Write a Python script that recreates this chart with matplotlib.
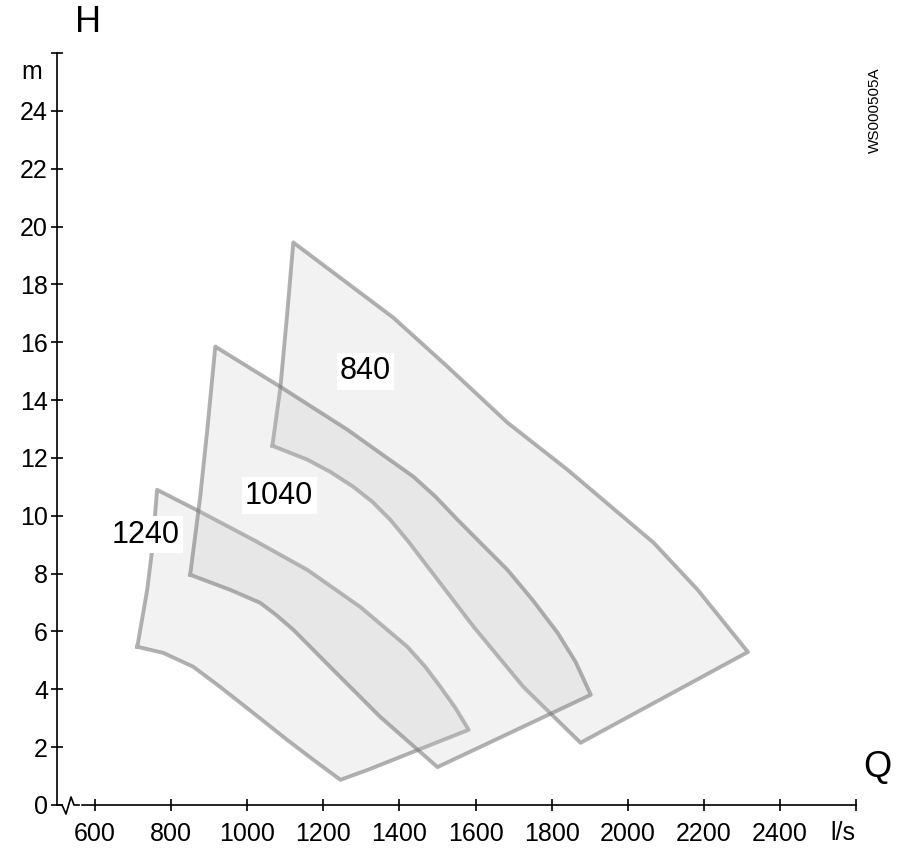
import numpy as np
import matplotlib
matplotlib.use("Agg")
import matplotlib.pyplot as plt

plt.rcParams["font.family"] = ["Liberation Sans", "DejaVu Sans"]

# outline of each operating range: Q (l/s), H (m), closed polygon
q840 = [1066, 1087, 1105, 1121, 1384, 1526, 1684, 1842, 2068, 2184, 2316,
        1876, 1726, 1595, 1474, 1424, 1376, 1329, 1279, 1218, 1158, 1066]
h840 = [12.42, 14.43, 16.99, 19.45, 16.85, 15.16, 13.22, 11.59, 9.07, 7.44, 5.29,
        2.15, 4.08, 6.16, 8.24, 9.10, 9.86, 10.48, 11.0, 11.52, 11.94, 12.42]

q1040 = [850, 876, 895, 916, 1087, 1263, 1437, 1495, 1553, 1684, 1750, 1816, 1863, 1903,
         1500, 1350, 1226, 1121, 1076, 1034, 955, 850]
h1040 = [7.96, 10.62, 12.98, 15.85, 14.46, 12.98, 11.35, 10.66, 9.86, 8.13, 7.09, 5.95, 4.95, 3.81,
         1.31, 3.04, 4.67, 6.06, 6.57, 6.99, 7.44, 7.96]

q1240 = [711, 737, 750, 763, 876, 1016, 1158, 1297, 1421, 1468, 1508, 1547, 1582,
         1316, 1245, 1174, 1105, 1016, 929, 858, 779, 711]
h1240 = [5.47, 7.44, 8.82, 10.9, 10.14, 9.17, 8.13, 6.85, 5.47, 4.78, 4.08, 3.36, 2.6,
         1.21, 0.87, 1.56, 2.25, 3.18, 4.08, 4.78, 5.26, 5.47]

labels = ["840", "1240", "1040"]
label_pos = {"840": (1311, 15.0), "1040": (1084, 10.7), "1240": (734, 9.34)}
x_ticks = [600, 800, 1000, 1200, 1400, 1600, 1800, 2000, 2200, 2400]
y_ticks = [0, 2, 4, 6, 8, 10, 12, 14, 16, 18, 20, 22, 24]

fig = plt.figure(figsize=(8.98, 8.59), dpi=100)
ax = fig.add_axes([57 / 898, 54 / 859, 799 / 898, 752 / 859])

outlines = {"840": (q840, h840), "1240": (q1240, h1240), "1040": (q1040, h1040)}
for name in labels:
    q, h = outlines[name]
    ax.fill(q, h, facecolor="#c4c4c4", alpha=0.22, edgecolor="none", zorder=2)
    ax.plot(q, h, color="#7a7a7a", alpha=0.58, lw=2.8, solid_joinstyle="round", zorder=2)

for name, (x, y) in label_pos.items():
    ax.text(x, y, name, fontsize=22, ha="center", va="center", zorder=5,
            bbox=dict(facecolor="white", edgecolor="none", pad=2.5))

ax.set_xlim(500, 2600)
ax.set_ylim(0, 26)
ax.set_xticks(x_ticks + [2600])
ax.set_xticklabels([str(v) for v in x_ticks] + [""])
ax.set_yticks(y_ticks + [26])
ax.set_yticklabels([str(v) for v in y_ticks] + [""])
ax.tick_params(axis="both", direction="inout", length=9, width=1.2, labelsize=18)
ax.tick_params(axis="x", pad=8)
ax.tick_params(axis="y", pad=2)

for s in ["top", "right", "bottom"]:
    ax.spines[s].set_visible(False)
ax.spines["left"].set_linewidth(1.2)

# bottom axis line with a break symbol near the origin
bx = np.array([0, 5, 9, 14, 17, 22]) / 799
by = np.array([0, 0, -9, 8, 0, 0]) / 752
ax.plot(bx, by, transform=ax.transAxes, color="black", lw=1.2, clip_on=False)
ax.plot([25 / 799, 1], [0, 0], transform=ax.transAxes, color="black", lw=1.2, clip_on=False)

fig.text(88 / 898, 1 - 22 / 859, "H", fontsize=26, ha="center", va="center")
fig.text(32 / 898, 1 - 72 / 859, "m", fontsize=18, ha="center", va="center")
fig.text(877 / 898, 1 - 768 / 859, "Q", fontsize=26, ha="center", va="center")
fig.text(843 / 898, 1 - 833 / 859, "l/s", fontsize=18, ha="center", va="center")
fig.text(875 / 898, 1 - 110 / 859, "WS000505A", fontsize=11, rotation=90,
         ha="center", va="center")

fig.savefig("out.png", dpi=100)
